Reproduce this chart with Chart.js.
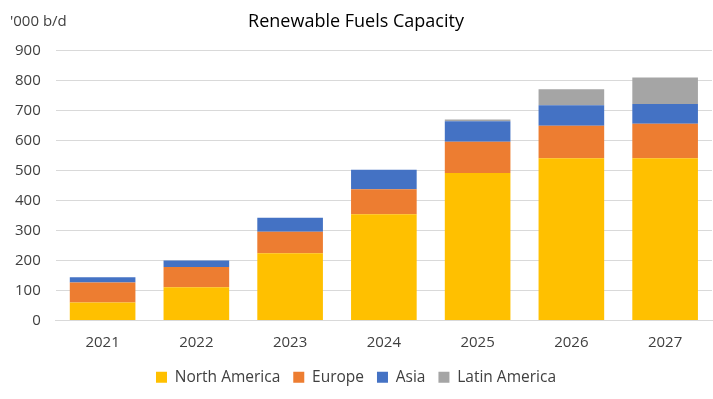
<!DOCTYPE html>
<html>
<head>
<meta charset="utf-8">
<script src="https://cdn.jsdelivr.net/npm/chart.js@4"></script>
<style>
  html, body { margin: 0; padding: 0; background: #fff; }
  #wrap { width: 713px; height: 399px; }
</style>
</head>
<body>
<div id="wrap"><canvas id="capChart" width="713" height="399"></canvas></div>
<script>
// --- DATA ---
const years = ['2021', '2022', '2023', '2024', '2025', '2026', '2027'];
const northAmerica = [60, 111, 224, 354, 492, 541, 541];
const europe = [67, 67, 72, 84, 104, 108, 115];
const asia = [17, 22, 47, 65, 68, 69, 66];
const latinAmerica = [0, 0, 0, 0, 6, 53, 88];
const yTicks = [0, 100, 200, 300, 400, 500, 600, 700, 800, 900];

const FONT = '"Open Sans", "Liberation Sans", sans-serif';
Chart.defaults.font.family = FONT;
Chart.defaults.color = '#404040';

// unit label top-left
const unitLabel = {
    id: 'unitLabel',
    afterDraw(chart) {
        const ctx = chart.ctx;
        ctx.save();
        ctx.font = '15px ' + FONT;
        ctx.fillStyle = '#404040';
        ctx.textBaseline = 'middle';
        ctx.textAlign = 'left';
        ctx.fillText("'000 b/d", 10, 22);
        ctx.restore();
    }
};

function ds(label, data, color) {
    return {
        label: label,
        data: data,
        backgroundColor: color,
        borderWidth: 0,
        barPercentage: 0.7,
        categoryPercentage: 1.0
    };
}

new Chart(document.getElementById('capChart').getContext('2d'), {
    type: 'bar',
    data: {
        labels: years,
        datasets: [
            ds('North America', northAmerica, '#FFC000'),
            ds('Europe', europe, '#ED7D31'),
            ds('Asia', asia, '#4472C4'),
            ds('Latin America', latinAmerica, '#A5A5A5')
        ]
    },
    options: {
        responsive: false,
        animation: false,
        layout: { padding: { left: 0, right: 1, top: 0, bottom: 4 } },
        plugins: {
            title: {
                display: true,
                text: 'Renewable Fuels Capacity',
                font: { size: 18, weight: 'normal' },
                color: '#000',
                padding: { top: 11, bottom: 18 }
            },
            legend: {
                position: 'bottom',
                labels: {
                    boxWidth: 11,
                    boxHeight: 11,
                    padding: 13,
                    font: { size: 15.5 },
                    color: '#404040'
                }
            },
            tooltip: { enabled: false }
        },
        scales: {
            x: {
                stacked: true,
                grid: { display: false },
                border: { color: '#d9d9d9' },
                ticks: { font: { size: 15 }, padding: 5 }
            },
            y: {
                stacked: true,
                min: 0,
                max: 900,
                afterBuildTicks(axis) { axis.ticks = yTicks.map(v => ({ value: v })); },
                grid: { color: '#d9d9d9', drawTicks: false },
                border: { display: false },
                ticks: { font: { size: 15 }, padding: 15 }
            }
        }
    },
    plugins: [unitLabel]
});
</script>
</body>
</html>
